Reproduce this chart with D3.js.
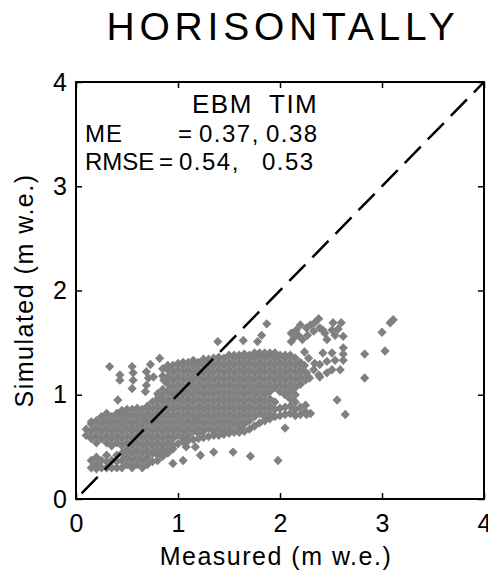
<!DOCTYPE html>
<html>
<head>
<meta charset="utf-8">
<script src="https://cdn.jsdelivr.net/npm/d3@7"></script>
<style>
  body { margin: 0; background: #fff; }
  text { font-family: "Liberation Sans", Arial, Helvetica, sans-serif; fill: #000; }
</style>
</head>
<body>
<div id="chart"></div>
<script>
// ---- data ----
const titleText = "HORISONTALLY";
const xLabel = "Measured (m w.e.)";
const yLabel = "Simulated (m w.e.)";
const xTicks = [0, 1, 2, 3, 4];
const yTicks = [0, 1, 2, 3, 4];
const oneToOne = [0, 4];
const modelNames = ["EBM", "TIM"];
const statNames = ["ME", "RMSE"];
const statValues = [["0.37", "0.38"], ["0.54", "0.53"]];

// dense part of the cloud: [measured, [simulated...]] per column
const cloudColumns = [
  [0.10, [0.61, 0.67]],
  [0.15, [0.30, 0.37, 0.58, 0.65, 0.72]],
  [0.20, [0.29, 0.33, 0.40, 0.54, 0.61, 0.68, 0.75]],
  [0.25, [0.30, 0.37, 0.58, 0.65, 0.72, 0.79]],
  [0.30, [0.30, 0.36, 0.42, 0.54, 0.61, 0.68, 0.75, 0.82]],
  [0.35, [0.30, 0.37, 0.51, 0.58, 0.65, 0.72, 0.79]],
  [0.40, [0.30, 0.36, 0.42, 0.54, 0.61, 0.68, 0.75, 0.82]],
  [0.45, [0.30, 0.37, 0.44, 0.51, 0.58, 0.65, 0.72, 0.79, 0.85]],
  [0.50, [0.33, 0.40, 0.47, 0.54, 0.61, 0.68, 0.75, 0.82, 0.86]],
  [0.55, [0.30, 0.37, 0.44, 0.51, 0.58, 0.65, 0.72, 0.79, 0.86]],
  [0.60, [0.33, 0.40, 0.47, 0.54, 0.61, 0.68, 0.75, 0.82, 0.87]],
  [0.65, [0.30, 0.37, 0.44, 0.51, 0.58, 0.65, 0.72, 0.79, 0.86]],
  [0.70, [0.33, 0.40, 0.47, 0.54, 0.61, 0.68, 0.75, 0.82, 0.89]],
  [0.75, [0.36, 0.44, 0.51, 0.58, 0.65, 0.72, 0.79, 0.86, 0.93]],
  [0.80, [0.37, 0.42, 0.47, 0.54, 0.61, 0.68, 0.75, 0.82, 0.89, 0.96, 1.01]],
  [0.85, [0.41, 0.46, 0.51, 0.58, 0.65, 0.72, 0.79, 0.86, 0.93, 1.00, 1.05, 1.18, 1.25]],
  [0.90, [0.44, 0.47, 0.54, 0.61, 0.68, 0.75, 0.82, 0.89, 0.96, 1.03, 1.10, 1.17, 1.24, 1.28]],
  [0.95, [0.48, 0.51, 0.58, 0.65, 0.72, 0.79, 0.86, 0.93, 1.00, 1.07, 1.14, 1.21, 1.28]],
  [1.00, [0.53, 0.61, 0.68, 0.75, 0.82, 0.89, 0.96, 1.03, 1.10, 1.17, 1.24, 1.30]],
  [1.05, [0.55, 0.58, 0.65, 0.72, 0.79, 0.86, 0.93, 1.00, 1.07, 1.14, 1.21, 1.28, 1.31]],
  [1.10, [0.56, 0.61, 0.68, 0.75, 0.82, 0.89, 0.96, 1.03, 1.10, 1.17, 1.24, 1.31]],
  [1.15, [0.57, 0.65, 0.72, 0.79, 0.86, 0.93, 1.00, 1.07, 1.14, 1.21, 1.28, 1.33]],
  [1.20, [0.58, 0.63, 0.68, 0.75, 0.82, 0.89, 0.96, 1.03, 1.10, 1.17, 1.24, 1.31]],
  [1.25, [0.59, 0.65, 0.72, 0.79, 0.86, 0.93, 1.00, 1.07, 1.14, 1.21, 1.28, 1.34]],
  [1.30, [0.60, 0.68, 0.75, 0.82, 0.89, 0.96, 1.03, 1.10, 1.17, 1.24, 1.31, 1.34]],
  [1.35, [0.61, 0.65, 0.72, 0.79, 0.86, 0.93, 1.00, 1.07, 1.14, 1.21, 1.28, 1.35]],
  [1.40, [0.61, 0.68, 0.75, 0.82, 0.89, 0.96, 1.03, 1.10, 1.17, 1.24, 1.31, 1.36]],
  [1.45, [0.62, 0.65, 0.72, 0.79, 0.86, 0.93, 1.00, 1.07, 1.14, 1.21, 1.28, 1.35]],
  [1.50, [0.63, 0.68, 0.75, 0.82, 0.89, 0.96, 1.03, 1.10, 1.17, 1.24, 1.31, 1.38]],
  [1.55, [0.64, 0.72, 0.79, 0.86, 0.93, 1.00, 1.07, 1.14, 1.21, 1.28, 1.35, 1.38]],
  [1.60, [0.64, 0.68, 0.75, 0.82, 0.89, 0.96, 1.03, 1.10, 1.17, 1.24, 1.31, 1.38]],
  [1.65, [0.65, 0.72, 0.79, 0.86, 0.93, 1.00, 1.07, 1.14, 1.21, 1.28, 1.35, 1.39]],
  [1.70, [0.67, 0.75, 0.82, 0.89, 0.96, 1.03, 1.10, 1.17, 1.24, 1.31, 1.38]],
  [1.75, [0.70, 0.79, 0.86, 0.93, 1.00, 1.07, 1.14, 1.21, 1.28, 1.35, 1.40]],
  [1.80, [0.73, 0.82, 0.89, 0.96, 1.03, 1.10, 1.17, 1.24, 1.31, 1.38, 1.40]],
  [1.85, [0.75, 0.79, 0.86, 0.93, 1.00, 1.07, 1.14, 1.21, 1.28, 1.35, 1.40]],
  [1.90, [0.77, 0.82, 0.89, 0.96, 1.03, 1.10, 1.17, 1.24, 1.31, 1.38, 1.40]],
  [1.95, [0.79, 0.86, 0.93, 1.07, 1.14, 1.21, 1.28, 1.35, 1.40]],
  [2.00, [0.80, 0.87, 1.03, 1.10, 1.17, 1.24, 1.31, 1.38]],
  [2.05, [0.81, 0.88, 1.00, 1.07, 1.14, 1.21, 1.28, 1.35, 1.38]],
  [2.10, [0.82, 0.89, 0.96, 1.03, 1.10, 1.17, 1.24, 1.31, 1.38]],
  [2.15, [0.80, 0.86, 0.93, 1.00, 1.07, 1.14, 1.21, 1.28, 1.35]],
  [2.20, [0.81, 0.88, 1.10, 1.17, 1.24, 1.31]],
  [2.25, [0.84, 0.90, 1.14, 1.21]],
  [2.30, [0.82]]
];

// loose points above the band on the left
const upperLeftPoints = [
  [0.15, 0.74], [0.33, 1.27], [0.43, 1.19], [0.43, 1.14], [0.41, 0.95],
  [0.55, 1.27], [0.56, 1.21], [0.56, 1.14], [0.55, 1.06], [0.69, 1.22],
  [0.71, 1.16], [0.69, 1.09], [0.76, 1.17], [0.73, 1.29], [0.82, 1.35],
  [0.81, 0.98], [0.68, 1.03], [0.86, 1.14]
];

// upper cluster and loose pattern on the right
const upperRightPoints = [
  [1.39, 1.51], [1.64, 1.52], [1.78, 1.51], [1.82, 1.57], [1.87, 1.68],
  [2.11, 1.59], [2.11, 1.51], [2.14, 1.55], [2.16, 1.62], [2.20, 1.67],
  [2.18, 1.57], [2.22, 1.53], [2.26, 1.64], [2.27, 1.57], [2.34, 1.69],
  [2.38, 1.73], [2.39, 1.64], [2.33, 1.61], [2.30, 1.67], [2.42, 1.62],
  [2.44, 1.59], [2.46, 1.53], [2.51, 1.62], [2.52, 1.69], [2.60, 1.69],
  [2.54, 1.57], [2.62, 1.56], [2.57, 1.63],
  [2.42, 1.40], [2.51, 1.40], [2.62, 1.45], [2.62, 1.39], [2.62, 1.33],
  [2.54, 1.33], [2.46, 1.32], [2.39, 1.29], [2.51, 1.24], [2.46, 1.21],
  [2.38, 1.19], [2.33, 1.24], [2.29, 1.16], [2.26, 1.21], [2.34, 1.30],
  [2.28, 1.35], [2.24, 1.28], [2.24, 1.41], [2.59, 1.24], [2.39, 1.17]
];

// far and low outliers
const outlierPoints = [
  [3.08, 1.69], [3.11, 1.72], [3.00, 1.60], [3.03, 1.42], [2.83, 1.39],
  [2.83, 1.16], [2.56, 0.95], [2.64, 0.81], [2.26, 0.81], [2.05, 0.68],
  [1.98, 0.37], [1.71, 0.41], [1.54, 0.45], [1.35, 0.45], [1.22, 0.42],
  [1.17, 0.50], [1.05, 0.37], [0.95, 0.34], [1.08, 0.50]
];

// ---- layout ----
const margin = {top: 82, right: 4, bottom: 73, left: 76},
    width = 488 - margin.left - margin.right,
    height = 572 - margin.top - margin.bottom;

const svg = d3.select("#chart")
  .append("svg")
    .attr("width", 488)
    .attr("height", 572);

const plot = svg.append("g")
    .attr("transform", "translate(" + margin.left + "," + margin.top + ")");

const x = d3.scaleLinear().domain([0, 4]).range([0, width]);
const y = d3.scaleLinear().domain([0, 4]).range([height, 0]);

// points
const points = cloudColumns
  .flatMap(c => c[1].map(s => [c[0], s]))
  .concat(upperLeftPoints, upperRightPoints, outlierPoints);

plot.append("g")
  .selectAll("path")
  .data(points)
  .enter()
  .append("path")
    .attr("d", "M0,-4.7L4.6,0L0,4.7L-4.6,0Z")
    .attr("transform", d => "translate(" + x(d[0]) + "," + y(d[1]) + ")")
    .style("fill", "#808080");

// 1:1 line
plot.append("line")
  .attr("x1", x(oneToOne[0]))
  .attr("y1", y(oneToOne[0]))
  .attr("x2", x(oneToOne[1]))
  .attr("y2", y(oneToOne[1]))
  .style("stroke", "#000")
  .style("stroke-width", 2.5)
  .style("stroke-dasharray", "23,10")
  .style("stroke-dashoffset", 25);

// stats text
function statText(tx, ty, str, size, spacing) {
  plot.append("text")
    .attr("x", tx)
    .attr("y", ty)
    .style("font-size", size)
    .style("letter-spacing", spacing)
    .text(str);
}
statText(116, 31, modelNames[0], "26px", "1.5px");
statText(193, 31, modelNames[1], "26px", "1.5px");

const eqX = [102, 83], firstX = [123, 103], secondX = [190, 186];
statNames.forEach(function(name, i) {
  const ty = 60 + i * 28;
  statText(9, ty, name, "24px", i === 0 ? "1px" : "0px");
  statText(eqX[i], ty, "=", "24px", "0px");
  statText(firstX[i], ty, statValues[i][0] + ",", "24px", "1.5px");
  statText(secondX[i], ty, statValues[i][1], "24px", "1.5px");
});

// axes
const tickFont = "25px";
const xAxis = d3.axisBottom(x).tickValues(xTicks).tickSize(-6).tickPadding(15).tickFormat(d3.format("d"));
const yAxis = d3.axisLeft(y).tickValues(yTicks).tickSize(-6).tickPadding(9).tickFormat(d3.format("d"));

const gx = plot.append("g")
  .attr("transform", "translate(0," + height + ")")
  .call(xAxis);
const gy = plot.append("g").call(yAxis);
const gxTop = plot.append("g").call(d3.axisTop(x).tickValues(xTicks).tickSize(-6).tickFormat(""));
const gyRight = plot.append("g")
  .attr("transform", "translate(" + width + ",0)")
  .call(d3.axisRight(y).tickValues(yTicks).tickSize(-6).tickFormat(""));

[gx, gy, gxTop, gyRight].forEach(function(g) {
  g.select(".domain").remove();
  g.selectAll(".tick line").style("stroke", "#000").style("stroke-width", 1.5);
  g.selectAll(".tick text")
    .style("font-size", tickFont)
    .style("font-family", "'Liberation Sans', Arial, sans-serif")
    .style("fill", "#000");
});

// box
plot.append("rect")
  .attr("x", 0)
  .attr("y", 0)
  .attr("width", width)
  .attr("height", height)
  .style("fill", "none")
  .style("stroke", "#000")
  .style("stroke-width", 2);

// titles
svg.append("text")
  .attr("x", 283)
  .attr("y", 40)
  .attr("text-anchor", "middle")
  .style("font-size", "39px")
  .style("letter-spacing", "4.8px")
  .text(titleText);

svg.append("text")
  .attr("x", 276)
  .attr("y", 565)
  .attr("text-anchor", "middle")
  .style("font-size", "25px")
  .style("letter-spacing", "1.5px")
  .text(xLabel);

svg.append("text")
  .attr("transform", "translate(33," + (margin.top + height / 2) + ") rotate(-90)")
  .attr("text-anchor", "middle")
  .style("font-size", "25px")
  .style("letter-spacing", "1.5px")
  .text(yLabel);
</script>
</body>
</html>
